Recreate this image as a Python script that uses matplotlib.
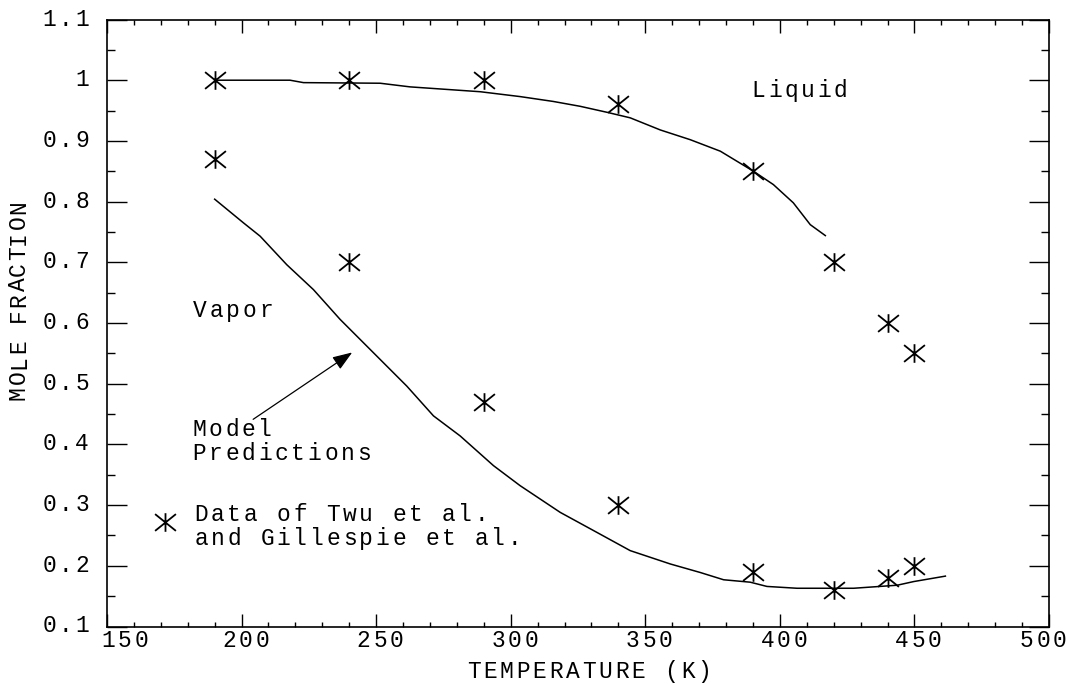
import matplotlib
matplotlib.use('Agg')
import matplotlib.pyplot as plt
from matplotlib.path import Path
from matplotlib.transforms import offset_copy, blended_transform_factory

# measured mole fractions (Twu et al. / Gillespie et al.)
temp_data = [190, 240, 290, 340, 390, 420, 440, 450]
liquid_data = [1.00, 1.00, 1.00, 0.96, 0.85, 0.70, 0.60, 0.55]
vapor_data = [0.87, 0.70, 0.47, 0.30, 0.19, 0.16, 0.18, 0.20]

# model curves
liquid_t = [190, 218, 223, 251.5, 262.6, 288.7, 303.5, 315.8, 325.8, 335.9,
            344.4, 355.6, 366.7, 377.9, 390.2, 397.6, 405.0, 411.3, 416.9]
liquid_model = [1.000, 1.000, 0.996, 0.995, 0.989, 0.981, 0.973, 0.965, 0.957, 0.947,
                0.938, 0.918, 0.902, 0.883, 0.850, 0.828, 0.798, 0.762, 0.744]
vapor_t = [190, 200.7, 206.9, 216.8, 226.7, 236.6, 249.0, 261.4, 271.3, 281.2,
           293.6, 303.5, 318.4, 330.8, 344.4, 359.3, 370.4, 379.1, 389.0, 395.2,
           406.4, 427.4, 443.6, 449.7, 461.5]
vapor_model = [0.804, 0.765, 0.743, 0.696, 0.655, 0.606, 0.551, 0.496, 0.447, 0.414,
               0.365, 0.332, 0.288, 0.258, 0.225, 0.203, 0.189, 0.177, 0.173, 0.166,
               0.163, 0.163, 0.168, 0.174, 0.183]

xticks = [150, 200, 250, 300, 350, 400, 450, 500]
xtick_labels = ['150', '200', '250', '300', '350', '400', '450', '500']
yticks = [0.1, 0.2, 0.3, 0.4, 0.5, 0.6, 0.7, 0.8, 0.9, 1.0, 1.1]
ytick_labels = ['0.1', '0.2', '0.3', '0.4', '0.5', '0.6', '0.7', '0.8', '0.9', '1', '1.1']

FONT = 'Liberation Mono'
FS = 16.5
PITCH = 16.5  # character pitch in pixels (dpi=100)

fig = plt.figure(figsize=(10.68, 6.84), dpi=100)
ax = fig.add_axes([107 / 1068, 57.5 / 684, 942 / 1068, 607 / 684])


def spaced(x, y, s, trans, dx=0, dy=0, align='left', vertical=False, pitch=PITCH):
    # monospaced text with wide letter spacing, one glyph per cell
    n = len(s)
    if align == 'left':
        first = 0
    elif align == 'center':
        first = -(n - 1) / 2 * pitch
    else:
        first = -(n - 1) * pitch
    for i, ch in enumerate(s):
        if ch == ' ':
            continue
        d = first + i * pitch
        if vertical:
            off = offset_copy(trans, fig=fig, x=dx, y=dy + d, units='dots')
        else:
            off = offset_copy(trans, fig=fig, x=dx + d, y=dy, units='dots')
        ax.text(x, y, ch, transform=off, ha='center', va='baseline',
                rotation=90 if vertical else 0, rotation_mode='anchor',
                fontsize=FS, family=FONT, color='black', clip_on=False)


# asterisk marker: vertical bar plus an X
star = Path([(0, -9.2), (0, 9.2), (-10.3, -8.3), (10.3, 8.3), (-10.3, 8.3), (10.3, -8.3)],
            [Path.MOVETO, Path.LINETO, Path.MOVETO, Path.LINETO, Path.MOVETO, Path.LINETO])

ax.plot(liquid_t, liquid_model, color='black', lw=1.1)
ax.plot(vapor_t, vapor_model, color='black', lw=1.1)
ax.plot(temp_data, liquid_data, ls='none', marker=star, ms=15, mew=1.3, mec='black')
ax.plot(temp_data, vapor_data, ls='none', marker=star, ms=15, mew=1.3, mec='black')
ax.plot([171.6], [0.272], ls='none', marker=star, ms=15, mew=1.3, mec='black')

ax.annotate('', xy=(241.1, 0.5515), xytext=(204.3, 0.4413),
            arrowprops=dict(arrowstyle='-|>,head_length=0.6,head_width=0.22',
                            mutation_scale=20, lw=0.9, color='black',
                            shrinkA=0, shrinkB=0))

ax.set_xlim(150, 500)
ax.set_ylim(0.1, 1.1)
ax.set_xticks(xticks)
ax.set_xticks(range(150, 501, 10), minor=True)
ax.set_yticks(yticks)
ax.set_yticks([0.15 + 0.1 * i for i in range(10)], minor=True)
ax.set_xticklabels([])
ax.set_yticklabels([])
ax.tick_params(axis='both', which='both', direction='in', top=True, right=True, width=1)
ax.tick_params(axis='x', which='major', length=9.4)
ax.tick_params(axis='x', which='minor', length=3.8)
ax.tick_params(axis='y', which='major', length=14.4)
ax.tick_params(axis='y', which='minor', length=5.5)
for sp in ax.spines.values():
    sp.set_linewidth(1.2)

# tick labels; the end labels are pulled inside the frame
xt = blended_transform_factory(ax.transData, ax.transAxes)
for i, (t, lab) in enumerate(zip(xticks, xtick_labels)):
    if i == 0:
        spaced(t, 0, lab, xt, dx=1, dy=-20.5, align='left')
    elif i == len(xticks) - 1:
        spaced(t, 0, lab, xt, dx=-6, dy=-20.5, align='center')
    else:
        spaced(t, 0, lab, xt, dx=4, dy=-20.5, align='center')
yt = blended_transform_factory(ax.transAxes, ax.transData)
for t, lab in zip(yticks, ytick_labels):
    spaced(0, t, lab, yt, dx=-25, dy=-6, align='right')

# axis titles
spaced(0.5, 0, 'TEMPERATURE (K)', ax.transAxes, dx=11, dy=-51.5, align='center')
spaced(0, 0.5, 'MOLE FRACTION', ax.transAxes, dx=-82, dy=23, align='center',
       vertical=True, pitch=15.5)

# annotations
spaced(392.0, 0.9725, 'Liquid', ax.transData)
spaced(184.6, 0.6107, 'Vapor', ax.transData)
spaced(184.2, 0.4133, 'Model', ax.transData)
spaced(184.2, 0.3738, 'Predictions', ax.transData)
spaced(185.0, 0.2735, 'Data of Twu et al.', ax.transData)
spaced(185.0, 0.2340, 'and Gillespie et al.', ax.transData)

fig.savefig('out.png', dpi=100)
